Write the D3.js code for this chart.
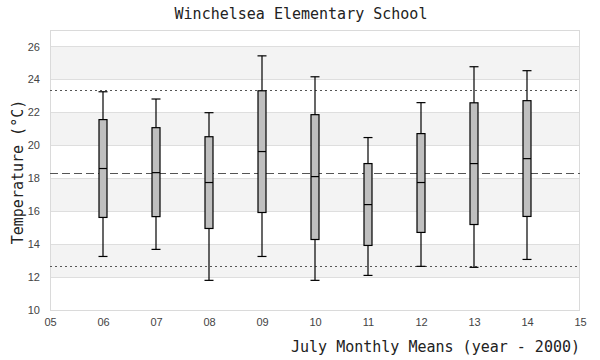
<!DOCTYPE html>
<html><head><meta charset="utf-8">
<script src="https://cdn.jsdelivr.net/npm/d3@7"></script>
<style>body{margin:0;background:#fff}</style>
</head><body>
<svg id="c" width="600" height="360"></svg>
<script>
const years = [6, 7, 8, 9, 10, 11, 12, 13, 14];
const whiskerHigh = [23.25, 22.81, 21.98, 25.43, 24.16, 20.47, 22.59, 24.77, 24.53];
const q3 = [21.56, 21.07, 20.52, 23.31, 21.86, 18.89, 20.71, 22.58, 22.71];
const medians = [18.59, 18.34, 17.74, 19.62, 18.10, 16.40, 17.74, 18.89, 19.19];
const q1 = [15.62, 15.67, 14.95, 15.92, 14.28, 13.92, 14.71, 15.19, 15.68];
const whiskerLow = [13.25, 13.68, 11.80, 13.25, 11.80, 12.10, 12.65, 12.59, 13.07];
const meanLine = 18.3;
const upperLine = 23.37;
const lowerLine = 12.66;
const xTicks = [5, 6, 7, 8, 9, 10, 11, 12, 13, 14, 15];
const yTicks = [10, 12, 14, 16, 18, 20, 22, 24, 26];
const bands = [[12, 14], [16, 18], [20, 22], [24, 26]];

const svg = d3.select("#c");
const L = 50, R = 580, T = 30, B = 310;
const x = d3.scaleLinear().domain([5, 15]).range([L, R]);
const y = d3.scaleLinear().domain([10, 27]).range([B, T]);
const mono = "'DejaVu Sans Mono', 'Liberation Mono', monospace";
const sans = "'Liberation Sans', Arial, sans-serif";

svg.append("g").selectAll("rect").data(bands).join("rect")
  .attr("x", L).attr("width", R - L)
  .attr("y", d => y(d[1])).attr("height", d => y(d[0]) - y(d[1]))
  .attr("fill", "#f3f3f3");

svg.append("g").selectAll("line").data(yTicks.filter(v => v > 10)).join("line")
  .attr("x1", L).attr("x2", R)
  .attr("y1", d => Math.round(y(d)) + 0.5).attr("y2", d => Math.round(y(d)) + 0.5)
  .attr("stroke", "#dedede").attr("stroke-width", 1);

svg.append("rect").attr("x", L + 0.5).attr("y", T + 0.5)
  .attr("width", R - L - 1).attr("height", B - T)
  .attr("fill", "none").attr("stroke", "#dadada").attr("stroke-width", 1);

const refs = [{v: upperLine, dash: "2,3", w: 1}, {v: meanLine, dash: "8,4", w: 1.2}, {v: lowerLine, dash: "2,3", w: 1}];
svg.append("g").selectAll("line").data(refs).join("line")
  .attr("x1", L).attr("x2", R)
  .attr("y1", d => Math.round(y(d.v)) + 0.5).attr("y2", d => Math.round(y(d.v)) + 0.5)
  .attr("stroke", "#555").attr("stroke-width", d => d.w)
  .attr("stroke-dasharray", d => d.dash);

const data = years.map((yr, i) => ({yr, hi: whiskerHigh[i], q3: q3[i], med: medians[i], q1: q1[i], lo: whiskerLow[i]}));
const bw = 8, cw = 9, sw = 1.2;
const g = svg.append("g").selectAll("g").data(data).join("g");
g.append("line").attr("x1", d => x(d.yr)).attr("x2", d => x(d.yr))
  .attr("y1", d => y(d.hi)).attr("y2", d => y(d.lo))
  .attr("stroke", "#000").attr("stroke-width", sw);
g.append("line").attr("x1", d => x(d.yr) - cw / 2).attr("x2", d => x(d.yr) + cw / 2)
  .attr("y1", d => y(d.hi)).attr("y2", d => y(d.hi)).attr("stroke", "#000").attr("stroke-width", sw);
g.append("line").attr("x1", d => x(d.yr) - cw / 2).attr("x2", d => x(d.yr) + cw / 2)
  .attr("y1", d => y(d.lo)).attr("y2", d => y(d.lo)).attr("stroke", "#000").attr("stroke-width", sw);
g.append("rect").attr("x", d => x(d.yr) - bw / 2).attr("width", bw)
  .attr("y", d => y(d.q3)).attr("height", d => y(d.q1) - y(d.q3))
  .attr("fill", "#bfbfbf").attr("stroke", "#000").attr("stroke-width", sw);
g.append("line").attr("x1", d => x(d.yr) - bw / 2).attr("x2", d => x(d.yr) + bw / 2)
  .attr("y1", d => y(d.med)).attr("y2", d => y(d.med)).attr("stroke", "#000").attr("stroke-width", sw);

const xAxis = d3.axisBottom(x).tickValues(xTicks).tickSize(0).tickPadding(8)
  .tickFormat(d => String(d).padStart(2, "0"));
const xg = svg.append("g").attr("transform", `translate(0,${B})`).call(xAxis);
xg.select(".domain").remove();
xg.selectAll("text").attr("font-family", sans).attr("font-size", 11).attr("fill", "#444");

const yAxis = d3.axisLeft(y).tickValues(yTicks).tickSize(0).tickPadding(10);
const yg = svg.append("g").attr("transform", `translate(${L},0)`).call(yAxis);
yg.select(".domain").remove();
yg.selectAll("text").attr("font-family", sans).attr("font-size", 11).attr("fill", "#444");

svg.append("text").attr("x", 301).attr("y", 19).attr("text-anchor", "middle")
  .attr("font-family", mono).attr("font-size", 15).attr("fill", "#222")
  .text("Winchelsea Elementary School");
svg.append("text").attr("x", 580).attr("y", 352).attr("text-anchor", "end")
  .attr("font-family", mono).attr("font-size", 15).attr("fill", "#222")
  .text("July Monthly Means (year - 2000)");
svg.append("text").attr("transform", "translate(23,172) rotate(-90)").attr("text-anchor", "middle")
  .attr("font-family", mono).attr("font-size", 15).attr("fill", "#222")
  .text("Temperature (°C)");
</script>
</body></html>
